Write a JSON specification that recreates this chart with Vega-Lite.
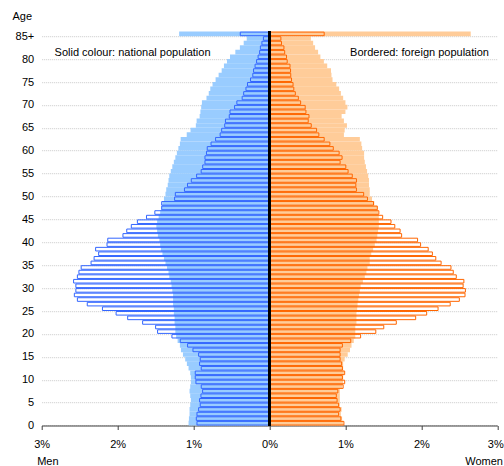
{
  "$schema": "https://vega.github.io/schema/vega-lite/v6.json",
  "width": 455.6,
  "height": 389.3,
  "autosize": {"type": "none"},
  "padding": {"left": 41.7, "top": 36.2, "right": 6.7, "bottom": 40.5},
  "config": {
    "view": {"stroke": null},
    "font": "Liberation Sans",
    "axis": {"labelFont": "Liberation Sans", "labelFontSize": 11, "labelColor": "#000000", "titleFont": "Liberation Sans", "titleFontSize": 11, "titleFontWeight": "normal", "titleColor": "#000000"}
  },
  "datasets": {
    "pop": [
      {"age": 0, "mn": -1.066, "mf": -0.955, "wn": 0.97, "wf": 0.98},
      {"age": 1, "mn": -1.061, "mf": -0.964, "wn": 0.956, "wf": 0.94},
      {"age": 2, "mn": -1.053, "mf": -0.955, "wn": 0.94, "wf": 0.91},
      {"age": 3, "mn": -1.053, "mf": -0.934, "wn": 0.95, "wf": 0.93},
      {"age": 4, "mn": -1.044, "mf": -0.912, "wn": 0.926, "wf": 0.91},
      {"age": 5, "mn": -1.035, "mf": -0.921, "wn": 0.926, "wf": 0.89},
      {"age": 6, "mn": -1.044, "mf": -0.903, "wn": 0.926, "wf": 0.88},
      {"age": 7, "mn": -1.053, "mf": -0.881, "wn": 0.926, "wf": 0.9},
      {"age": 8, "mn": -1.044, "mf": -0.899, "wn": 0.956, "wf": 0.97},
      {"age": 9, "mn": -1.035, "mf": -0.969, "wn": 0.97, "wf": 0.99},
      {"age": 10, "mn": -1.035, "mf": -0.978, "wn": 0.97, "wf": 0.96},
      {"age": 11, "mn": -1.044, "mf": -0.978, "wn": 0.98, "wf": 0.99},
      {"age": 12, "mn": -1.066, "mf": -0.899, "wn": 0.97, "wf": 0.96},
      {"age": 13, "mn": -1.088, "mf": -0.921, "wn": 0.97, "wf": 0.95},
      {"age": 14, "mn": -1.11, "mf": -0.912, "wn": 0.99, "wf": 0.93},
      {"age": 15, "mn": -1.14, "mf": -0.934, "wn": 1.03, "wf": 0.93},
      {"age": 16, "mn": -1.166, "mf": -1.008, "wn": 1.06, "wf": 0.93},
      {"age": 17, "mn": -1.18, "mf": -1.079, "wn": 1.08, "wf": 0.96},
      {"age": 18, "mn": -1.21, "mf": -1.175, "wn": 1.11, "wf": 1.07},
      {"age": 19, "mn": -1.23, "mf": -1.285, "wn": 1.13, "wf": 1.2},
      {"age": 20, "mn": -1.24, "mf": -1.474, "wn": 1.13, "wf": 1.4},
      {"age": 21, "mn": -1.24, "mf": -1.5, "wn": 1.13, "wf": 1.505},
      {"age": 22, "mn": -1.25, "mf": -1.671, "wn": 1.145, "wf": 1.67},
      {"age": 23, "mn": -1.25, "mf": -1.868, "wn": 1.145, "wf": 1.925},
      {"age": 24, "mn": -1.26, "mf": -2.02, "wn": 1.145, "wf": 2.07},
      {"age": 25, "mn": -1.26, "mf": -2.2, "wn": 1.155, "wf": 2.22},
      {"age": 26, "mn": -1.27, "mf": -2.4, "wn": 1.16, "wf": 2.38},
      {"age": 27, "mn": -1.27, "mf": -2.53, "wn": 1.17, "wf": 2.5},
      {"age": 28, "mn": -1.27, "mf": -2.57, "wn": 1.18, "wf": 2.575},
      {"age": 29, "mn": -1.28, "mf": -2.55, "wn": 1.19, "wf": 2.58},
      {"age": 30, "mn": -1.29, "mf": -2.55, "wn": 1.2, "wf": 2.55},
      {"age": 31, "mn": -1.3, "mf": -2.58, "wn": 1.23, "wf": 2.56},
      {"age": 32, "mn": -1.32, "mf": -2.53, "wn": 1.255, "wf": 2.46},
      {"age": 33, "mn": -1.33, "mf": -2.51, "wn": 1.276, "wf": 2.42},
      {"age": 34, "mn": -1.35, "mf": -2.48, "wn": 1.29, "wf": 2.39},
      {"age": 35, "mn": -1.37, "mf": -2.35, "wn": 1.32, "wf": 2.26},
      {"age": 36, "mn": -1.39, "mf": -2.31, "wn": 1.32, "wf": 2.19},
      {"age": 37, "mn": -1.41, "mf": -2.25, "wn": 1.34, "wf": 2.145},
      {"age": 38, "mn": -1.43, "mf": -2.29, "wn": 1.365, "wf": 2.09},
      {"age": 39, "mn": -1.44, "mf": -2.14, "wn": 1.387, "wf": 1.99},
      {"age": 40, "mn": -1.45, "mf": -2.13, "wn": 1.41, "wf": 1.95},
      {"age": 41, "mn": -1.47, "mf": -1.93, "wn": 1.42, "wf": 1.74},
      {"age": 42, "mn": -1.48, "mf": -1.88, "wn": 1.43, "wf": 1.72},
      {"age": 43, "mn": -1.49, "mf": -1.82, "wn": 1.44, "wf": 1.65},
      {"age": 44, "mn": -1.48, "mf": -1.74, "wn": 1.44, "wf": 1.6},
      {"age": 45, "mn": -1.46, "mf": -1.62, "wn": 1.44, "wf": 1.49},
      {"age": 46, "mn": -1.44, "mf": -1.51, "wn": 1.43, "wf": 1.44},
      {"age": 47, "mn": -1.42, "mf": -1.42, "wn": 1.42, "wf": 1.42},
      {"age": 48, "mn": -1.41, "mf": -1.42, "wn": 1.38, "wf": 1.37},
      {"age": 49, "mn": -1.39, "mf": -1.25, "wn": 1.35, "wf": 1.29},
      {"age": 50, "mn": -1.37, "mf": -1.24, "wn": 1.32, "wf": 1.24},
      {"age": 51, "mn": -1.36, "mf": -1.12, "wn": 1.32, "wf": 1.145},
      {"age": 52, "mn": -1.34, "mf": -1.08, "wn": 1.31, "wf": 1.137},
      {"age": 53, "mn": -1.33, "mf": -1.03, "wn": 1.31, "wf": 1.145},
      {"age": 54, "mn": -1.32, "mf": -0.96, "wn": 1.3, "wf": 1.09},
      {"age": 55, "mn": -1.3, "mf": -0.9, "wn": 1.285, "wf": 1.035},
      {"age": 56, "mn": -1.28, "mf": -0.88, "wn": 1.27, "wf": 1.005},
      {"age": 57, "mn": -1.26, "mf": -0.85, "wn": 1.255, "wf": 0.93},
      {"age": 58, "mn": -1.24, "mf": -0.85, "wn": 1.246, "wf": 0.956},
      {"age": 59, "mn": -1.22, "mf": -0.83, "wn": 1.246, "wf": 0.917},
      {"age": 60, "mn": -1.2, "mf": -0.82, "wn": 1.22, "wf": 0.84},
      {"age": 61, "mn": -1.18, "mf": -0.77, "wn": 1.21, "wf": 0.795},
      {"age": 62, "mn": -1.17, "mf": -0.71, "wn": 1.19, "wf": 0.72},
      {"age": 63, "mn": -1.09, "mf": -0.65, "wn": 0.98, "wf": 0.65},
      {"age": 64, "mn": -1.04, "mf": -0.63, "wn": 0.99, "wf": 0.62},
      {"age": 65, "mn": -0.97, "mf": -0.59, "wn": 1.02, "wf": 0.55},
      {"age": 66, "mn": -0.96, "mf": -0.58, "wn": 0.98, "wf": 0.51},
      {"age": 67, "mn": -0.92, "mf": -0.53, "wn": 0.95, "wf": 0.52},
      {"age": 68, "mn": -0.91, "mf": -0.52, "wn": 1.0, "wf": 0.48},
      {"age": 69, "mn": -0.9, "mf": -0.46, "wn": 1.026, "wf": 0.47},
      {"age": 70, "mn": -0.89, "mf": -0.43, "wn": 1.0, "wf": 0.41},
      {"age": 71, "mn": -0.83, "mf": -0.36, "wn": 0.97, "wf": 0.38},
      {"age": 72, "mn": -0.8, "mf": -0.34, "wn": 0.94, "wf": 0.34},
      {"age": 73, "mn": -0.78, "mf": -0.31, "wn": 0.917, "wf": 0.32},
      {"age": 74, "mn": -0.75, "mf": -0.29, "wn": 0.88, "wf": 0.31},
      {"age": 75, "mn": -0.71, "mf": -0.25, "wn": 0.83, "wf": 0.29},
      {"age": 76, "mn": -0.67, "mf": -0.22, "wn": 0.816, "wf": 0.28},
      {"age": 77, "mn": -0.63, "mf": -0.21, "wn": 0.81, "wf": 0.277},
      {"age": 78, "mn": -0.6, "mf": -0.19, "wn": 0.76, "wf": 0.27},
      {"age": 79, "mn": -0.56, "mf": -0.17, "wn": 0.716, "wf": 0.233},
      {"age": 80, "mn": -0.52, "mf": -0.15, "wn": 0.67, "wf": 0.224},
      {"age": 81, "mn": -0.45, "mf": -0.13, "wn": 0.64, "wf": 0.2},
      {"age": 82, "mn": -0.39, "mf": -0.12, "wn": 0.6, "wf": 0.19},
      {"age": 83, "mn": -0.34, "mf": -0.1, "wn": 0.575, "wf": 0.158},
      {"age": 84, "mn": -0.3, "mf": -0.08, "wn": 0.545, "wf": 0.15},
      {"age": 85, "mn": -1.19, "mf": -0.385, "wn": 2.65, "wf": 0.72}
    ],
    "notes": [
      {"x": -2.83, "age": 81.4, "label": "Solid colour: national population", "side": "left"},
      {"x": -3.06, "age": -8, "label": "Men", "side": "left"},
      {"x": 2.89, "age": 81.4, "label": "Bordered: foreign population", "side": "right"},
      {"x": 3.075, "age": -8, "label": "Women", "side": "right"}
    ]
  },
  "data": {"name": "pop"},
  "encoding": {
    "y": {"field": "age", "type": "quantitative",
      "scale": {"domain": [0, 85], "nice": false, "zero": false, "padding": 0},
      "axis": {"values": [0, 5, 10, 15, 20, 25, 30, 35, 40, 45, 50, 55, 60, 65, 70, 75, 80, 85],
        "labelExpr": "datum.value == 85 ? '85+' : datum.label",
        "labelOverlap": false, "labelFlush": false,
        "domain": false, "ticks": false, "labelPadding": 8,
        "grid": true, "gridColor": "#c8c8c8", "gridDash": [1, 1], "gridWidth": 1,
        "title": "Age", "titleAngle": 0, "titleAlign": "left", "titleBaseline": "middle",
        "titleX": -29.7, "titleY": -19.5}}
  },
  "layer": [
    {
      "mark": {"type": "bar", "orient": "horizontal", "color": "#99CCFF", "size": 4.7, "yOffset": -2.3},
      "encoding": {
        "x": {"field": "mn", "type": "quantitative",
          "scale": {"domain": [-3, 3], "nice": false, "padding": 0},
          "axis": {"values": [-3, -2, -1, 0, 1, 2, 3], "labelExpr": "abs(datum.value) + '%'",
            "labelOverlap": false, "labelFlush": false,
            "labelOffset": {"condition": {"test": "datum.value == 3", "value": -2}, "value": 0},
            "grid": false, "domainColor": "#404040", "tickColor": "#404040", "tickSize": 4,
            "labelPadding": 8.5, "title": null}}
      }
    },
    {
      "mark": {"type": "bar", "orient": "horizontal", "color": "#FFCC99", "size": 4.7, "yOffset": -2.3},
      "encoding": {
        "x": {"field": "wn", "type": "quantitative"}
      }
    },
    {
      "mark": {"type": "bar", "orient": "horizontal", "fill": "#ffffff", "fillOpacity": 0, "stroke": "#3366FF", "strokeWidth": 1, "size": 3.6, "yOffset": -2.3},
      "encoding": {
        "x": {"field": "mf", "type": "quantitative"}
      }
    },
    {
      "mark": {"type": "bar", "orient": "horizontal", "fill": "#ffffff", "fillOpacity": 0, "stroke": "#FF6600", "strokeWidth": 1, "size": 3.6, "yOffset": -2.3},
      "encoding": {
        "x": {"field": "wf", "type": "quantitative"}
      }
    },
    {
      "mark": {"type": "rule", "color": "#000000", "strokeWidth": 1.5, "yOffset": -4.6},
      "encoding": {
        "x": {"datum": 0, "type": "quantitative"},
        "y": {"datum": 85, "type": "quantitative"},
        "y2": {"datum": 0}
      }
    },
    {
      "data": {"name": "notes"},
      "transform": [{"filter": "datum.side == 'left'"}],
      "mark": {"type": "text", "align": "left", "baseline": "middle", "fontSize": 11, "font": "Liberation Sans", "color": "#000000"},
      "encoding": {
        "x": {"field": "x", "type": "quantitative"},
        "text": {"field": "label"}
      }
    },
    {
      "data": {"name": "notes"},
      "transform": [{"filter": "datum.side == 'right'"}],
      "mark": {"type": "text", "align": "right", "baseline": "middle", "fontSize": 11, "font": "Liberation Sans", "color": "#000000"},
      "encoding": {
        "x": {"field": "x", "type": "quantitative"},
        "text": {"field": "label"}
      }
    }
  ]
}
